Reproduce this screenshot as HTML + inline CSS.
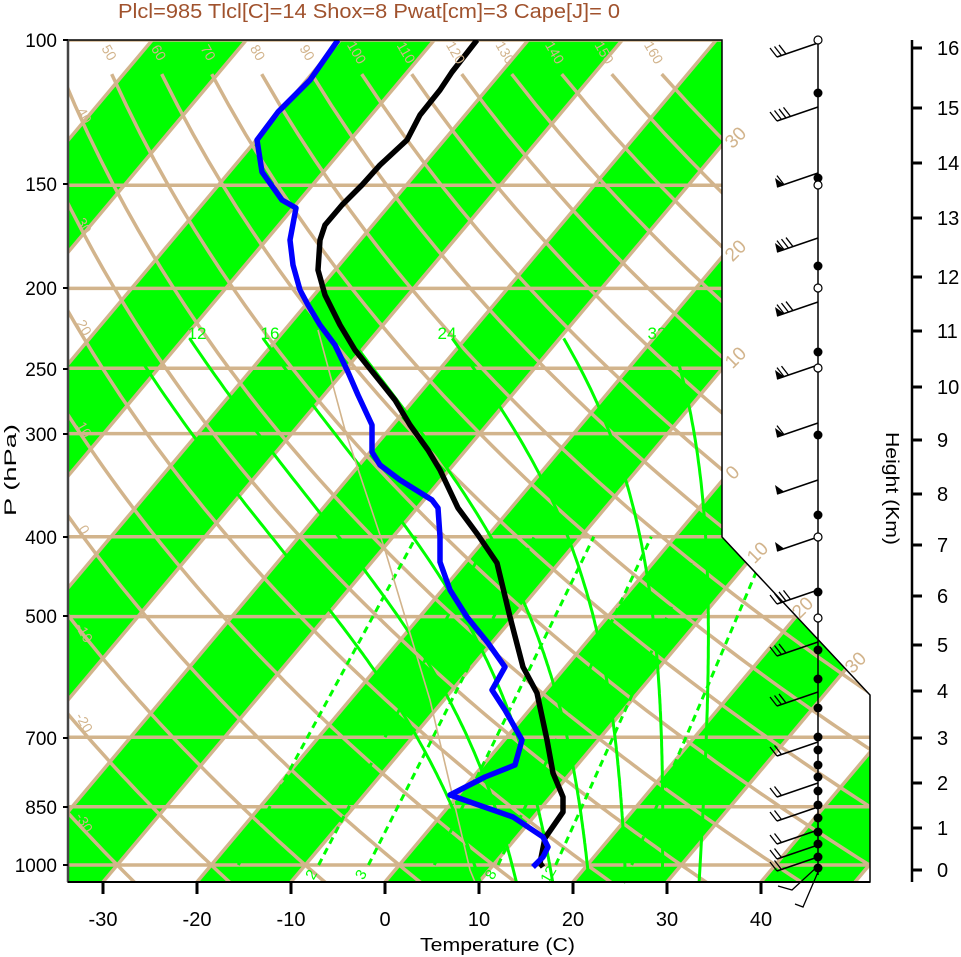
<!DOCTYPE html>
<html><head><meta charset="utf-8"><style>
html,body{margin:0;padding:0;background:#fff;width:961px;height:957px;overflow:hidden}
svg{display:block;font-family:"Liberation Sans",Arial,sans-serif}
</style></head><body>
<svg id="s" width="961" height="957" viewBox="0 0 961 957" xmlns="http://www.w3.org/2000/svg">
<defs><clipPath id="cp"><path d="M68,40 L722,40 L722,537 L870,695 L870,882 L68,882 Z"/></clipPath></defs>
<g id="plot" clip-path="url(#cp)"></g>
<g id="over"></g>
</svg>
<script>
var plot=[],over=[];
function yP(p){return 865-358.3*Math.log(1000/p);}
function xT(T,y){return 385+9.4*T+(882-y)*0.84;}
var TAN="#d2b48c",GR="#00ff00";
for(var m=-8;m<=3;m++){var t1=20*m,t2=t1+10;
plot.push('<polygon fill="'+GR+'" points="'+xT(t1,882)+',882 '+xT(t2,882)+',882 '+xT(t2,40)+',40 '+xT(t1,40)+',40"/>');}
for(var T=-110;T<=60;T+=10){plot.push('<line x1="'+xT(T,882)+'" y1="882" x2="'+xT(T,40)+'" y2="40" stroke="'+TAN+'" stroke-width="3.5"/>');}
[100,150,200,250,300,400,500,700,850,1000].forEach(function(p){var y=yP(p);plot.push('<line x1="68" y1="'+y+'" x2="880" y2="'+y+'" stroke="'+TAN+'" stroke-width="3.5"/>');});
for(var th=-30;th<=160;th+=10){var pts=[];for(var p=110;p<=1060;p+=10){var Tk=(th+273.15)*Math.pow(p/1000,0.286);var y=yP(p);pts.push(xT(Tk-273.15,y).toFixed(1)+','+y.toFixed(1));}
plot.push('<polyline fill="none" stroke="'+TAN+'" stroke-width="3.5" points="'+pts.join(' ')+'"/>');}
function es(T){return 6.112*Math.exp(17.67*T/(T+243.5));}
function dTdp(T,p){var Tk=T+273.15,e=es(T),rs=0.622*e/(p-e),Lv=2.5e6,Rd=287,cp=1004;
return (Rd*Tk+Lv*rs)/(p*(cp+Lv*Lv*rs*0.622/(Rd*Tk*Tk)));}
[8,12,16,20,24,28,32].forEach(function(tw){var pts=[];
var Td=tw;for(var q=1000;q<1050;q+=5){Td+=dTdp(Td,q)*5;}
var up=[];var T=tw;for(var p=1000;p>=230;p-=5){up.push([p,T]);T-=dTdp(T,p)*5;}
[[1050,Td]].concat(up).forEach(function(a){var y=yP(a[0]);pts.push(xT(a[1],y).toFixed(1)+','+y.toFixed(1));});
plot.push('<polyline fill="none" stroke="'+GR+'" stroke-width="3" points="'+pts.join(' ')+'"/>');});
function tdw(w,p){var e=w*p/(622+w);var l=Math.log(e/6.112);return 243.5*l/(17.67-l);}
[1,2,3,5,8,12,20].forEach(function(w){var y1=yP(1000),y2=yP(400);
plot.push('<line x1="'+xT(tdw(w,1000),y1)+'" y1="'+y1+'" x2="'+xT(tdw(w,400),y2)+'" y2="'+y2+'" stroke="'+GR+'" stroke-width="3" stroke-dasharray="7,5"/>');
var lx=xT(tdw(w,1000),y1)-3;over.push('<text x="'+lx+'" y="877" fill="'+GR+'" font-size="15" transform="rotate(-60 '+lx+' 877)" text-anchor="middle">'+w+'</text>');});
plot.push('<polyline fill="none" stroke="'+TAN+'" stroke-width="1.6" points="318,330 345,430 385,550 430,700 470,870 475,882"/>');
plot.push('<polyline fill="none" stroke="#000" stroke-width="5.5" stroke-linejoin="round" points="543,867 540,863 545,838 563,812 563,797 553,773 547,740 537,693 523,667 510,617 497,563 478,535 458,508 440,470 428,450 410,425 395,400 375,375 355,350 340,325 325,295 318,270 320,240 325,225 342,205 362,185 380,165 407,140 420,115 440,90 452,72 477,40"/>');
plot.push('<polyline fill="none" stroke="#0000ff" stroke-width="5.5" stroke-linejoin="round" points="533,867 543,857 548,847 543,837 513,817 450,795 485,777 515,765 522,740 505,710 492,690 505,667 488,643 467,617 450,590 440,562 440,537 438,508 432,500 400,480 380,465 372,452 372,425 358,395 348,372 335,345 320,325 308,305 300,290 293,265 290,240 296,208 282,200 262,172 257,140 278,112 310,80 338,40"/>');
over.push('<path d="M68,40 L722,40 L722,537 L870,695 L870,882 L68,882 Z" fill="none" stroke="#000" stroke-width="1.5"/>');
over.push('<line x1="68" y1="40" x2="68" y2="882" stroke="#444" stroke-width="2.5"/>');
over.push('<text x="118" y="18" font-size="20" fill="#a0522d" textLength="502" lengthAdjust="spacingAndGlyphs">Plcl=985 Tlcl[C]=14 Shox=8 Pwat[cm]=3 Cape[J]= 0</text>');
[[100,40],[150,184],[200,288],[250,369],[300,434],[400,537],[500,616],[700,738],[850,807],[1000,865]].forEach(function(a){
over.push('<text x="57" y="'+(a[1]+7)+'" font-size="19" text-anchor="end">'+a[0]+'</text>');
over.push('<line x1="63" y1="'+a[1]+'" x2="68" y2="'+a[1]+'" stroke="#000" stroke-width="2"/>');});
over.push('<text x="0" y="0" font-size="17" transform="translate(16 516) rotate(-90)" textLength="92" lengthAdjust="spacingAndGlyphs">P (hPa)</text>');
over.push('<line x1="68" y1="882" x2="870" y2="882" stroke="#000" stroke-width="2"/>');
for(var T=-30;T<=40;T+=10){var x=385+9.4*T;over.push('<line x1="'+x+'" y1="882" x2="'+x+'" y2="894" stroke="#000" stroke-width="3"/>');
over.push('<text x="'+x+'" y="926" font-size="20" text-anchor="middle">'+T+'</text>');}
over.push('<text x="420" y="951" font-size="18" textLength="155" lengthAdjust="spacingAndGlyphs">Temperature (C)</text>');
[50,60,70,80,90,100,110,120,130,140,150,160].forEach(function(v,i){var x=105+49.5*i,y=55;over.push('<text x="'+x+'" y="'+y+'" font-size="14" fill="'+TAN+'" text-anchor="middle" transform="rotate(60 '+x+' '+y+')">'+v+'</text>');});
[[40,118],[30,228],[20,330],[10,432],[0,532],[-10,635],[-20,725],[-30,825]].forEach(function(a){var x=80,y=a[1];
over.push('<text x="'+x+'" y="'+y+'" font-size="14" fill="'+TAN+'" text-anchor="middle" transform="rotate(60 '+x+' '+y+')">'+a[0]+'</text>');});
[[30,740,142],[20,740,255],[10,740,362],[0,737,477],[10,762,557],[20,807,612],[30,860,667]].forEach(function(a){
over.push('<text x="'+a[1]+'" y="'+a[2]+'" font-size="19" fill="'+TAN+'" text-anchor="middle" transform="rotate(-45 '+a[1]+' '+a[2]+')">'+a[0]+'</text>');});
[[12,197],[16,270],[24,447],[32,657]].forEach(function(a){over.push('<text x="'+a[1]+'" y="339" font-size="17" fill="'+GR+'" text-anchor="middle">'+a[0]+'</text>');});
over.push('<line x1="818" y1="40" x2="818" y2="875" stroke="#000" stroke-width="1.5"/>');
var barbs=[[43,3,0],[107,4,0],[173,1,1],[238,3,1],[302,3,1],[365,2,1],[423,1,1],[480,0,1],[537,0,1],[590,4,0],[642,3,0],[692,3,0],[742,2,0],[783,2,0],[807,2,0],[830,2,0],[845,2,0],[857,2,0]];
barbs.forEach(function(b){var y=b[0],x2=777,y2=y+14;over.push('<line x1="818" y1="'+y+'" x2="'+x2+'" y2="'+y2+'" stroke="#000" stroke-width="1.5"/>');
var off=0;if(b[2]){over.push('<polygon points="'+x2+','+y2+' '+(x2+7)+','+(y2-2.5)+' '+(x2-2)+','+(y2-9)+'" fill="#000"/>');off=7;}
for(var i=0;i<b[1];i++){var fx=x2+off+i*4.5,fy=y2-(off+i*4.5)*0.34;over.push('<line x1="'+fx+'" y1="'+fy+'" x2="'+(fx-7)+'" y2="'+(fy-9)+'" stroke="#000" stroke-width="1.3"/>');}});
over.push('<polyline points="818,866 792,890 778,886" fill="none" stroke="#000" stroke-width="1.3"/>');
over.push('<polyline points="818,872 803,907 795,904" fill="none" stroke="#000" stroke-width="1.3"/>');
[93,178,266,352,435,515,592,650,679,708,737,750,765,777,791,805,818,832,844,857,868].forEach(function(y){over.push('<circle cx="818" cy="'+y+'" r="4.5" fill="#000"/>');});
[40,185,288,368,537,618].forEach(function(y){over.push('<circle cx="818" cy="'+y+'" r="4" fill="#fff" stroke="#000" stroke-width="1.2"/>');});
over.push('<line x1="912" y1="40" x2="912" y2="882" stroke="#000" stroke-width="2.5"/>');
[870,828,783,738,691,645,596,545,494,440,387,331,277,218,163,108,48].forEach(function(y,i){over.push('<line x1="912" y1="'+y+'" x2="922" y2="'+y+'" stroke="#000" stroke-width="3"/>');
over.push('<text x="937" y="'+(y+7)+'" font-size="20">'+i+'</text>');});
over.push('<text x="0" y="0" font-size="18" transform="translate(886 432) rotate(90)" textLength="113" lengthAdjust="spacingAndGlyphs">Height (Km)</text>');
document.getElementById('plot').innerHTML=plot.join('');
document.getElementById('over').innerHTML=over.join('');
</script>
</body></html>
